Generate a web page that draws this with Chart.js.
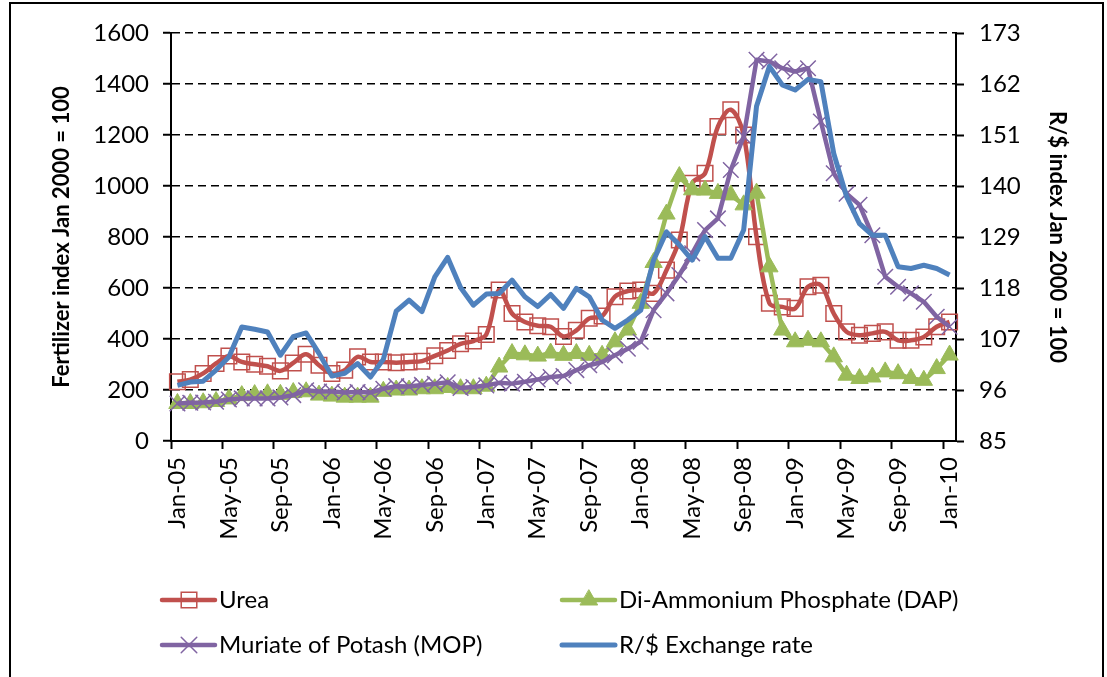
<!DOCTYPE html>
<html>
<head>
<meta charset="utf-8">
<title>Fertilizer index and R/$ exchange rate</title>
<script src="https://cdn.jsdelivr.net/npm/chart.js@4.4.1/dist/chart.umd.min.js"></script>
<style>
    html, body { margin: 0; padding: 0; background: #fff; }
    #grafico { display: block; }
</style>
</head>
<body>
<canvas id="grafico" width="1107" height="677"></canvas>
<script>
// months, Jan 2005 - Jan 2010
const meses = [
    "Jan-05", "Feb-05", "Mar-05", "Apr-05", "May-05", "Jun-05", "Jul-05", "Aug-05", "Sep-05", "Oct-05", "Nov-05", "Dec-05",
    "Jan-06", "Feb-06", "Mar-06", "Apr-06", "May-06", "Jun-06", "Jul-06", "Aug-06", "Sep-06", "Oct-06", "Nov-06", "Dec-06",
    "Jan-07", "Feb-07", "Mar-07", "Apr-07", "May-07", "Jun-07", "Jul-07", "Aug-07", "Sep-07", "Oct-07", "Nov-07", "Dec-07",
    "Jan-08", "Feb-08", "Mar-08", "Apr-08", "May-08", "Jun-08", "Jul-08", "Aug-08", "Sep-08", "Oct-08", "Nov-08", "Dec-08",
    "Jan-09", "Feb-09", "Mar-09", "Apr-09", "May-09", "Jun-09", "Jul-09", "Aug-09", "Sep-09", "Oct-09", "Nov-09", "Dec-09",
    "Jan-10"
];

// fertilizer indices (left axis)
const urea = [
    232, 241, 265, 304, 333, 310, 301, 293, 275, 306, 340, 297,
    265, 278, 330, 310, 310, 307, 310, 313, 334, 355, 381, 392,
    418, 592, 500, 467, 452, 448, 410, 434, 481, 490, 566, 588,
    592, 579, 670, 788, 1011, 1050, 1233, 1299, 1200, 801, 540, 526,
    520, 605, 611, 500, 428, 415, 422, 428, 395, 395, 408, 448,
    467
];
const dap = [
    147, 147, 150, 155, 165, 178, 182, 185, 183, 190, 193, 180,
    176, 172, 172, 172, 195, 200, 200, 205, 205, 210, 205, 205,
    215, 290, 343, 338, 333, 345, 336, 343, 336, 336, 389, 435,
    540, 700, 890, 1037, 985, 984, 971, 965, 926, 972, 683, 435,
    389, 395, 389, 330, 258, 245, 251, 271, 264, 245, 238, 284,
    337
];
const mop = [
    147, 150, 151, 154, 163, 167, 167, 167, 171, 180, 199, 194,
    194, 190, 192, 190, 205, 215, 214, 220, 224, 230, 208, 212,
    218, 228, 225, 232, 241, 251, 255, 278, 297, 310, 336, 362,
    389, 513, 579, 651, 736, 827, 873, 1063, 1194, 1495, 1488, 1462,
    1449, 1462, 1253, 1050, 970, 926, 807, 644, 605, 579, 546, 487,
    448
];

// R/$ index (right axis)
const tipoCambio = [
    97.0, 97.7, 97.9, 100.3, 103.1, 109.6, 109.1, 108.5, 103.5, 107.5, 108.3, 103.9,
    99.0, 99.6, 101.7, 98.8, 102.6, 113.0, 115.4, 112.9, 120.4, 124.6, 118.1, 114.3,
    116.7, 116.8, 119.7, 116.1, 114.0, 116.6, 113.6, 117.9, 116.1, 111.1, 109.3, 111.1,
    113.2, 124.0, 130.1, 127.3, 124.0, 129.1, 124.4, 124.4, 130.5, 157.2, 165.8, 161.8,
    160.7, 163.0, 162.5, 147.0, 137.7, 131.9, 129.4, 129.4, 122.6, 122.2, 122.9, 122.2,
    120.8
];

const ticksIzq = [0, 200, 400, 600, 800, 1000, 1200, 1400, 1600];
const ticksDer = [85, 96, 107, 118, 129, 140, 151, 162, 173];

const fuente = "Lato, 'Open Sans', sans-serif";

// where each legend entry goes (x of the line sample, y of the row)
const posicionesLeyenda = [
    { x: 162, y: 600 },
    { x: 562, y: 600 },
    { x: 162, y: 645 },
    { x: 562, y: 645 }
];

const marco = {
    id: "marco",
    beforeDraw(chart) {
        const ctx = chart.ctx;
        ctx.save();
        ctx.fillStyle = "#fff";
        ctx.fillRect(0, 0, chart.width, chart.height);
        ctx.strokeStyle = "#000";
        ctx.lineWidth = 2;
        ctx.strokeRect(10, 3, 1093, 720);
        ctx.restore();
    }
};

const leyenda = {
    id: "leyenda",
    afterDraw(chart) {
        const ctx = chart.ctx;
        ctx.save();
        posicionesLeyenda.forEach((pos, i) => {
            const ds = chart.data.datasets[i];

            ctx.strokeStyle = ds.borderColor;
            ctx.lineWidth = ds.borderWidth;
            ctx.lineCap = "round";
            ctx.beginPath();
            ctx.moveTo(pos.x, pos.y);
            ctx.lineTo(pos.x + 53, pos.y);
            ctx.stroke();

            if (ds.pointRadius > 0) {
                ctx.fillStyle = ds.pointBackgroundColor;
                ctx.strokeStyle = ds.pointBorderColor;
                ctx.lineWidth = ds.pointBorderWidth;
                Chart.helpers.drawPoint(ctx, {
                    pointStyle: ds.pointStyle,
                    radius: ds.pointRadius,
                    borderWidth: ds.pointBorderWidth,
                    rotation: 0
                }, pos.x + 27, pos.y);
            }

            ctx.fillStyle = "#000";
            ctx.font = "24px " + fuente;
            ctx.textAlign = "left";
            ctx.textBaseline = "middle";
            ctx.fillText(ds.label, pos.x + 57, pos.y);
        });
        ctx.restore();
    }
};

const ctxGrafico = document.getElementById("grafico").getContext("2d");

new Chart(ctxGrafico, {
    type: "line",
    data: {
        labels: meses,
        datasets: [
            {
                label: "Urea",
                data: urea,
                yAxisID: "y",
                borderColor: "#C0504D",
                borderWidth: 4.5,
                borderJoinStyle: "round",
                tension: 0.35,
                pointStyle: "rect",
                pointRadius: 11,
                pointBorderWidth: 1.5,
                pointBorderColor: "#C0504D",
                pointBackgroundColor: "rgba(0,0,0,0)",
                order: 4
            },
            {
                label: "Di-Ammonium Phosphate (DAP)",
                data: dap,
                yAxisID: "y",
                borderColor: "#9BBB59",
                borderWidth: 4.5,
                borderJoinStyle: "round",
                tension: 0,
                pointStyle: "triangle",
                pointRadius: 10,
                pointBorderWidth: 1,
                pointBorderColor: "#9BBB59",
                pointBackgroundColor: "#9BBB59",
                order: 3
            },
            {
                label: "Muriate of Potash (MOP)",
                data: mop,
                yAxisID: "y",
                borderColor: "#8064A2",
                borderWidth: 4.5,
                borderJoinStyle: "round",
                tension: 0,
                pointStyle: "crossRot",
                pointRadius: 11,
                pointBorderWidth: 1.5,
                pointBorderColor: "#8064A2",
                pointBackgroundColor: "#8064A2",
                order: 2
            },
            {
                label: "R/$ Exchange rate",
                data: tipoCambio,
                yAxisID: "y1",
                borderColor: "#4F81BD",
                borderWidth: 5,
                borderJoinStyle: "round",
                tension: 0,
                pointRadius: 0,
                order: 1
            }
        ]
    },
    options: {
        responsive: false,
        animation: false,
        layout: { padding: { top: 33, left: 0, right: 0, bottom: 0 } },
        plugins: {
            legend: { display: false },
            tooltip: { enabled: false }
        },
        scales: {
            x: {
                type: "category",
                offset: true,
                grid: {
                    offset: true,
                    drawOnChartArea: false,
                    drawTicks: true,
                    tickLength: 8,
                    tickWidth: 2,
                    tickColor: c => c.index % 4 === 0 ? "#000" : "rgba(0,0,0,0)"
                },
                border: { display: true, color: "#000", width: 2 },
                ticks: {
                    autoSkip: false,
                    maxRotation: 90,
                    minRotation: 90,
                    padding: 8,
                    color: "#000",
                    font: { family: fuente, size: 24 },
                    callback: (v, i) => i % 4 === 0 ? meses[i] : ""
                },
                afterFit: s => { s.height = 236; }
            },
            y: {
                position: "left",
                min: 0,
                max: 1600,
                afterBuildTicks: s => { s.ticks = ticksIzq.map(v => ({ value: v })); },
                grid: {
                    color: "#000",
                    lineWidth: 1.5,
                    tickLength: 8,
                    tickWidth: 2,
                    tickColor: "#000",
                    tickBorderDash: []
                },
                border: { color: "#000", width: 2, dash: [8, 5] },
                ticks: {
                    padding: 14,
                    color: "#000",
                    font: { family: fuente, size: 24 },
                    callback: v => String(v)
                },
                title: {
                    display: true,
                    text: "Fertilizer index Jan 2000 = 100",
                    color: "#000",
                    font: { family: fuente, size: 22, weight: "bold" },
                    padding: { top: 49, bottom: 0 }
                },
                afterFit: s => { s.width = 171; }
            },
            y1: {
                position: "right",
                min: 85,
                max: 173,
                afterBuildTicks: s => { s.ticks = ticksDer.map(v => ({ value: v })); },
                grid: {
                    drawOnChartArea: false,
                    tickLength: 8,
                    tickWidth: 2,
                    tickColor: "#000"
                },
                border: { color: "#000", width: 2 },
                ticks: {
                    padding: 15,
                    color: "#000",
                    font: { family: fuente, size: 24 },
                    callback: v => String(v)
                },
                title: {
                    display: true,
                    text: "R/$ index Jan 2000 = 100",
                    color: "#000",
                    font: { family: fuente, size: 22, weight: "bold" },
                    padding: { top: 37, bottom: 0 }
                },
                afterFit: s => { s.width = 151; }
            }
        }
    },
    plugins: [marco, leyenda]
});
</script>
</body>
</html>
